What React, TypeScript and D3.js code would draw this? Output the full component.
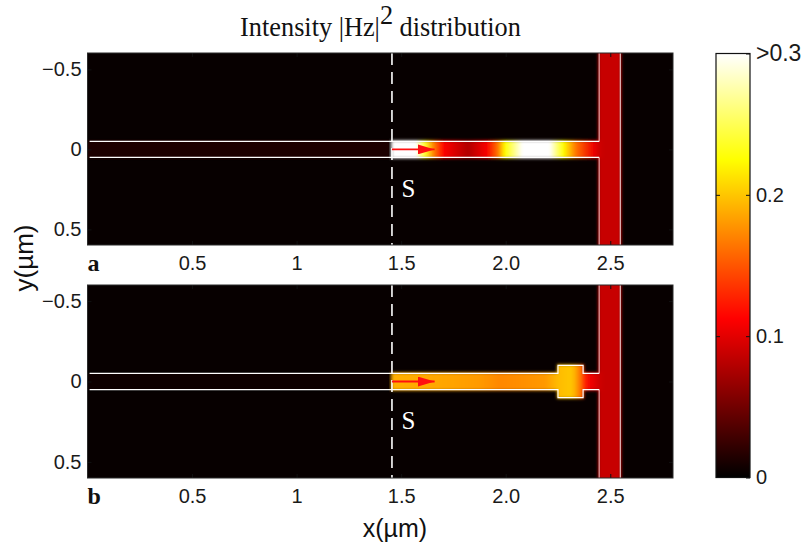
import React, { useEffect, useRef } from 'react';
import * as d3 from 'd3';

// values
const xTicks = [0.5, 1, 1.5, 2, 2.5];
const xTickLabels = ['0.5', '1', '1.5', '2.0', '2.5'];
const yTicks = [-0.5, 0, 0.5];
const yTickLabels = ['\u22120.5', '0', '0.5'];
const barTicks = [0, 0.1, 0.2, 0.3];
const barTickLabels = ['0', '0.1', '0.2', '>0.3'];

const sourceX = 1.456;
const guideHalfWidth = 0.05;
const stubLeft = 2.447;
const stubRight = 2.548;
const cavity = [2.25, 2.37];
const cavityHalfWidth = 0.1;
const background = 0.003;
const stubValue = 0.088;

// intensity along the horizontal guide, right of the source
const profileXA = [1.456, 1.57, 1.615, 1.655, 1.7, 1.82, 1.91, 1.96, 1.997, 2.08, 2.21, 2.275, 2.34, 2.42, 2.45];
const profileIA = [0.3, 0.3, 0.235, 0.17, 0.115, 0.078, 0.11, 0.16, 0.225, 0.3, 0.3, 0.225, 0.16, 0.105, 0.09];
const profileXB = [1.456, 1.73, 1.88, 1.97, 2.07, 2.19, 2.25, 2.31, 2.33, 2.36, 2.38, 2.41, 2.45];
const profileIB = [0.19, 0.185, 0.18, 0.172, 0.175, 0.18, 0.195, 0.2, 0.19, 0.16, 0.125, 0.105, 0.09];
const leftValueA = 0.012;
const leftValueB = 0.003;

const hot = d3
  .scaleLinear<string>()
  .domain([0, 0.1125, 0.225, 0.3])
  .range(['#000000', '#ff0000', '#ffff00', '#ffffff'])
  .clamp(true);

const margin = { left: 87.5, right: 673 };
const x = d3.scaleLinear().domain([0, 2.8]).range([margin.left, margin.right]);

const sans = '"Liberation Sans", Arial, sans-serif';
const serif = '"Liberation Serif", "Times New Roman", serif';
const tickSize = 20;
const bleed = 1; // the field leaks a little past the guide walls

const App = () => {
  const ref = useRef<SVGSVGElement>(null);

  useEffect(() => {
    const svg = d3.select(ref.current);
    svg.selectAll('*').remove();
    const defs = svg.append('defs');

    defs
      .append('filter')
      .attr('id', 'glow')
      .attr('filterUnits', 'userSpaceOnUse')
      .attr('x', 0)
      .attr('y', 0)
      .attr('width', 806)
      .attr('height', 543)
      .append('feGaussianBlur')
      .attr('stdDeviation', 1.7);

    const marker = defs
      .append('marker')
      .attr('id', 'arrow')
      .attr('markerUnits', 'userSpaceOnUse')
      .attr('markerWidth', 18)
      .attr('markerHeight', 10)
      .attr('refX', 17)
      .attr('refY', 5)
      .attr('orient', 'auto');
    marker.append('path').attr('d', 'M0,0L17,5L0,10Z').attr('fill', '#ff1010');

    const drawPanel = (
      id: string,
      top: number,
      bottom: number,
      yOffset: number,
      letter: string,
      profX: number[],
      profI: number[],
      leftValue: number,
      withCavity: boolean
    ) => {
      const y = d3.scaleLinear().domain([-0.6, 0.6]).range([top + yOffset, bottom + yOffset]);

      const grad = defs
        .append('linearGradient')
        .attr('id', `guide-${id}`)
        .attr('gradientUnits', 'userSpaceOnUse')
        .attr('x1', x(0))
        .attr('x2', x(2.8))
        .attr('y1', 0)
        .attr('y2', 0);
      const stop = (pos: number, v: number) =>
        grad.append('stop').attr('offset', pos / 2.8).attr('stop-color', hot(v));
      stop(0, leftValue);
      stop(sourceX, leftValue);
      profX.forEach((p, i) => stop(p, profI[i]));

      defs
        .append('clipPath')
        .attr('id', `clip-${id}`)
        .append('rect')
        .attr('x', x(0))
        .attr('y', top)
        .attr('width', x(2.8) - x(0))
        .attr('height', bottom - top);

      const g = svg.append('g').attr('clip-path', `url(#clip-${id})`);
      g.append('rect')
        .attr('x', x(0))
        .attr('y', top)
        .attr('width', x(2.8) - x(0))
        .attr('height', bottom - top)
        .attr('fill', hot(background));

      const field = g.append('g').attr('filter', 'url(#glow)');
      field
        .append('rect')
        .attr('x', x(stubLeft) - bleed)
        .attr('y', top - 10)
        .attr('width', x(stubRight) - x(stubLeft) + 2 * bleed)
        .attr('height', bottom - top + 20)
        .attr('fill', hot(stubValue));
      field
        .append('rect')
        .attr('x', x(0) - 10)
        .attr('y', y(-guideHalfWidth) - (leftValue > 0 ? bleed : 0))
        .attr('width', x(stubLeft) - x(0) + 14)
        .attr('height', y(guideHalfWidth) - y(-guideHalfWidth) + (leftValue > 0 ? 2 * bleed : 0))
        .attr('fill', `url(#guide-${id})`);
      if (withCavity) {
        field
          .append('rect')
          .attr('x', x(cavity[0]) - bleed)
          .attr('y', y(-cavityHalfWidth) - bleed)
          .attr('width', x(cavity[1]) - x(cavity[0]) + 2 * bleed)
          .attr('height', y(cavityHalfWidth) - y(-cavityHalfWidth) + 2 * bleed)
          .attr('fill', `url(#guide-${id})`);
      }

      // guide outline
      const outline = (pts: [number, number][]) => d3.line()(pts.map(([a, b]) => [x(a), y(b)]));
      const upper: [number, number][] = withCavity
        ? [
            [0.01, -guideHalfWidth],
            [cavity[0], -guideHalfWidth],
            [cavity[0], -cavityHalfWidth],
            [cavity[1], -cavityHalfWidth],
            [cavity[1], -guideHalfWidth],
            [stubLeft, -guideHalfWidth],
          ]
        : [
            [0.01, -guideHalfWidth],
            [stubLeft, -guideHalfWidth],
          ];
      const lower = upper.map(([a, b]) => [a, -b] as [number, number]);
      [upper, lower].forEach((pts) =>
        g.append('path').attr('d', outline(pts)).attr('fill', 'none').attr('stroke', '#ffffff').attr('stroke-width', 1.2)
      );
      const stubLine = (at: number, y0: number, y1: number, op: number) =>
        g
          .append('line')
          .attr('x1', x(at))
          .attr('x2', x(at))
          .attr('y1', y0)
          .attr('y2', y1)
          .attr('stroke', '#ffffff')
          .attr('stroke-opacity', op)
          .attr('stroke-width', 1.2);
      stubLine(stubLeft, top, y(-guideHalfWidth), 0.65);
      stubLine(stubLeft, y(guideHalfWidth), bottom, 0.65);
      stubLine(stubRight, top, bottom, 0.75);

      // source plane, arrow and its label
      g.append('line')
        .attr('x1', x(sourceX))
        .attr('x2', x(sourceX))
        .attr('y1', top)
        .attr('y2', bottom)
        .attr('stroke', '#ffffff')
        .attr('stroke-width', 1.6)
        .attr('stroke-dasharray', '12 7');
      g.append('line')
        .attr('x1', x(sourceX))
        .attr('x2', x(1.66))
        .attr('y1', y(0))
        .attr('y2', y(0))
        .attr('stroke', '#ff1010')
        .attr('stroke-width', 1.8)
        .attr('marker-end', 'url(#arrow)');
      g.append('text')
        .attr('x', x(sourceX) + 9.5)
        .attr('y', y(0.295))
        .attr('fill', '#ffffff')
        .attr('font-family', serif)
        .attr('font-size', 25)
        .text('S');

      // axes
      const styleAxis = (sel: d3.Selection<SVGGElement, unknown, null, undefined>) => {
        sel.select('.domain').remove();
        sel.selectAll('line').attr('stroke', '#111111');
        sel
          .selectAll('text')
          .attr('fill', '#1a1a1a')
          .attr('font-family', sans)
          .attr('font-size', tickSize);
      };
      const axisX = svg.append('g').attr('transform', `translate(0,${bottom})`) as any;
      axisX
        .call(
          d3
            .axisBottom(x)
            .tickValues(xTicks)
            .tickSize(-4)
            .tickPadding(11)
            .tickFormat((_, i) => xTickLabels[i])
        )
        .call(styleAxis);
      const axisXTop = svg.append('g').attr('transform', `translate(0,${top})`) as any;
      axisXTop
        .call(d3.axisTop(x).tickValues(xTicks).tickSize(-4).tickFormat(() => ''))
        .call(styleAxis);
      const axisY = svg.append('g').attr('transform', `translate(${margin.left},0)`) as any;
      axisY
        .call(
          d3
            .axisLeft(y)
            .tickValues(yTicks)
            .tickSize(-4)
            .tickPadding(6)
            .tickFormat((_, i) => yTickLabels[i])
        )
        .call(styleAxis);
      const axisYRight = svg.append('g').attr('transform', `translate(${margin.right},0)`) as any;
      axisYRight
        .call(d3.axisRight(y).tickValues(yTicks).tickSize(-4).tickFormat(() => ''))
        .call(styleAxis);

      svg
        .append('rect')
        .attr('x', x(0))
        .attr('y', top)
        .attr('width', x(2.8) - x(0))
        .attr('height', bottom - top)
        .attr('fill', 'none')
        .attr('stroke', '#2a2a2a')
        .attr('stroke-width', 1);

      svg
        .append('text')
        .attr('x', x(0))
        .attr('y', bottom + 25.5)
        .attr('font-family', serif)
        .attr('font-weight', 'bold')
        .attr('font-size', 24)
        .attr('fill', '#111111')
        .text(letter);
    };

    drawPanel('a', 53, 245, 0.4, 'a', profileXA, profileIA, leftValueA, false);
    drawPanel('b', 285, 478, 0, 'b', profileXB, profileIB, leftValueB, true);

    // colour bar
    const barY = d3.scaleLinear().domain([0, 0.3]).range([477.5, 53.5]);
    const barGrad = defs
      .append('linearGradient')
      .attr('id', 'bar')
      .attr('x1', 0)
      .attr('x2', 0)
      .attr('y1', 1)
      .attr('y2', 0);
    hot.domain().forEach((d) => {
      barGrad.append('stop').attr('offset', d / 0.3).attr('stop-color', hot(d));
    });
    svg
      .append('rect')
      .attr('x', 716)
      .attr('y', barY(0.3))
      .attr('width', 34)
      .attr('height', barY(0) - barY(0.3))
      .attr('fill', 'url(#bar)')
      .attr('stroke', '#111111')
      .attr('stroke-width', 1.2);
    const barAxis = svg.append('g').attr('transform', 'translate(750,0)') as any;
    barAxis.call(
      d3
        .axisRight(barY)
        .tickValues(barTicks)
        .tickSize(-4)
        .tickPadding(6)
        .tickFormat((_, i) => barTickLabels[i])
    );
    barAxis.select('.domain').remove();
    barAxis.selectAll('line').attr('stroke', '#111111');
    barAxis
      .selectAll('text')
      .attr('fill', '#1a1a1a')
      .attr('font-family', sans)
      .attr('font-size', (_: number, i: number) => (i === 3 ? 23 : tickSize));
    const barLeft = svg.append('g').attr('transform', 'translate(716,0)') as any;
    barLeft.call(d3.axisLeft(barY).tickValues(barTicks.slice(1, 3)).tickSize(-4).tickFormat(() => ''));
    barLeft.select('.domain').remove();
    barLeft.selectAll('line').attr('stroke', '#111111');

    // titles
    const title = svg
      .append('text')
      .attr('x', 380.5)
      .attr('y', 36)
      .attr('text-anchor', 'middle')
      .attr('font-family', serif)
      .attr('font-size', 26.3)
      .attr('fill', '#111111');
    title.append('tspan').text('Intensity |Hz|');
    title.append('tspan').attr('dy', -12).text('2');
    title.append('tspan').attr('dy', 12).text(' distribution');

    svg
      .append('text')
      .attr('x', 395)
      .attr('y', 537)
      .attr('text-anchor', 'middle')
      .attr('font-family', sans)
      .attr('font-size', 25)
      .attr('fill', '#111111')
      .text('x(\u00b5m)');
    svg
      .append('text')
      .attr('transform', 'translate(33,258) rotate(-90)')
      .attr('text-anchor', 'middle')
      .attr('font-family', sans)
      .attr('font-size', 26)
      .attr('fill', '#111111')
      .text('y(\u00b5m)');
  }, []);

  return (
    <svg
      ref={ref}
      width={806}
      height={543}
      style={{ position: 'absolute', left: 0, top: 0, display: 'block', background: '#ffffff' }}
    />
  );
};

export default App;
